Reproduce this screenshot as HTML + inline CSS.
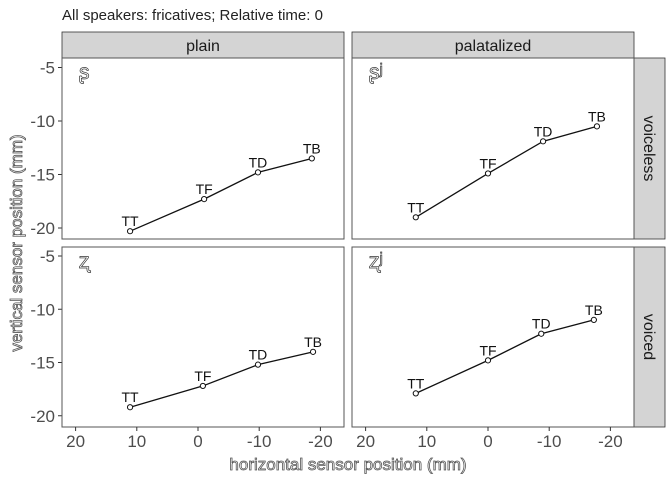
<!DOCTYPE html>
<html><head><meta charset="utf-8"><style>
html,body{margin:0;padding:0;background:#fff;}
svg{display:block;font-family:"Liberation Sans","DejaVu Sans",sans-serif;}
</style></head><body>
<svg id="chart" width="672" height="480" viewBox="0 0 672 480" xmlns="http://www.w3.org/2000/svg">
<text x="62" y="20" font-size="15" fill="#222">All speakers: fricatives; Relative time: 0</text>
<g id="panels"></g>
<text x="348" y="470" text-anchor="middle" font-size="17" fill="#fff" stroke="#555" stroke-width="0.8">horizontal sensor position (mm)</text>
<text transform="translate(22,243) rotate(-90)" text-anchor="middle" font-size="17" fill="#fff" stroke="#555" stroke-width="0.8">vertical sensor position (mm)</text>
</svg>
<script>
const sensors = ["TT","TF","TD","TB"];
const colLabels = ["plain","palatalized"];
const rowLabels = ["voiceless","voiced"];
const symbols = [["ʂ","ʂʲ"],["ʐ","ʐʲ"]];
const xTicks = [20,10,0,-10,-20];
const yTicks = [-5,-10,-15,-20];
const xPlainVoiceless = [11.1,-1.0,-9.8,-18.6];
const yPlainVoiceless = [-20.3,-17.3,-14.8,-13.5];
const xPalVoiceless = [11.8,0,-9.0,-17.8];
const yPalVoiceless = [-19.0,-14.9,-11.9,-10.5];
const xPlainVoiced = [11.1,-0.8,-9.8,-18.8];
const yPlainVoiced = [-19.2,-17.2,-15.2,-14.0];
const xPalVoiced = [11.8,0,-8.7,-17.3];
const yPalVoiced = [-17.9,-14.8,-12.3,-11.0];
const series = [[[xPlainVoiceless,yPlainVoiceless],[xPalVoiceless,yPalVoiceless]],
                [[xPlainVoiced,yPlainVoiced],[xPalVoiced,yPalVoiced]]];

const NS="http://www.w3.org/2000/svg";
const g=document.getElementById('panels');
function mk(tag,attrs,parent,text){const e=document.createElementNS(NS,tag);for(const k in attrs)e.setAttribute(k,attrs[k]);if(text!==undefined)e.textContent=text;(parent||g).appendChild(e);return e;}
const colX=[62,352], panelW=282;
const rowY=[58,247], panelH=[181,180];
function xs(c,v){return colX[c]+136-6.12*v;}
function ys(r,v){const y5=r===0?67.5:256;return y5+(-5-v)*(r===0?10.7:10.65);}

for(let c=0;c<2;c++){
  const s=mk('rect',{x:colX[c],y:32,width:panelW,height:26,fill:'#d4d4d4',stroke:'#333','stroke-width':0.8});
  
  
  const t=mk('text',{x:colX[c]+panelW/2,y:51,'text-anchor':'middle','font-size':16,fill:'#1a1a1a'},g,colLabels[c]);
  
  
}
for(let r=0;r<2;r++){
  const s=mk('rect',{x:634,y:rowY[r],width:31,height:panelH[r],fill:'#d4d4d4',stroke:'#333','stroke-width':0.8});
  
  
  const cy=rowY[r]+panelH[r]/2;
  const t=mk('text',{transform:`translate(644,${cy}) rotate(90)`,'text-anchor':'middle','font-size':16,fill:'#1a1a1a'},g,rowLabels[r]);
  
  
  yTicks.forEach(v=>{
    const y=ys(r,v);
    const tk=mk('line',{x1:58,x2:62,y1:y,y2:y,stroke:'#333','stroke-width':1});
    
    
    const tl=mk('text',{x:55,y:y+6,'text-anchor':'end','font-size':17,fill:'#4d4d4d'},g,String(v));
    
    
  });
  for(let c=0;c<2;c++){
    const p=mk('rect',{x:colX[c],y:rowY[r],width:panelW,height:panelH[r],fill:'#fff',stroke:'#555','stroke-width':1});
    
    
    const sym=mk('text',{x:colX[c]+17,y:rowY[r]+21,'font-size':21,fill:'#fff',stroke:'#333','stroke-width':0.7},g,symbols[r][c]);
    
    
    const [xa,ya]=series[r][c];
    const pts=xa.map((v,i)=>xs(c,v)+','+ys(r,ya[i])).join(' ');
    const pl=mk('polyline',{points:pts,fill:'none',stroke:'#111','stroke-width':1.3});
    
    
    xa.forEach((v,i)=>{
      const cx=xs(c,v), cy=ys(r,ya[i]);
      const pt=mk('circle',{cx:cx,cy:cy,r:2.6,fill:'#fff',stroke:'#111','stroke-width':1});
      
      
      const lb=mk('text',{x:cx,y:cy-5,'text-anchor':'middle','font-size':14,fill:'#111'},g,sensors[i]);
      
      
    });
  }
}
for(let c=0;c<2;c++){
  xTicks.forEach(v=>{
    const x=xs(c,v);
    const tk=mk('line',{x1:x,x2:x,y1:427,y2:431,stroke:'#333','stroke-width':1});
    
    
    const tl=mk('text',{x:x,y:447,'text-anchor':'middle','font-size':17,fill:'#4d4d4d'},g,String(v));
    
    
  });
}
</script>
</body></html>
